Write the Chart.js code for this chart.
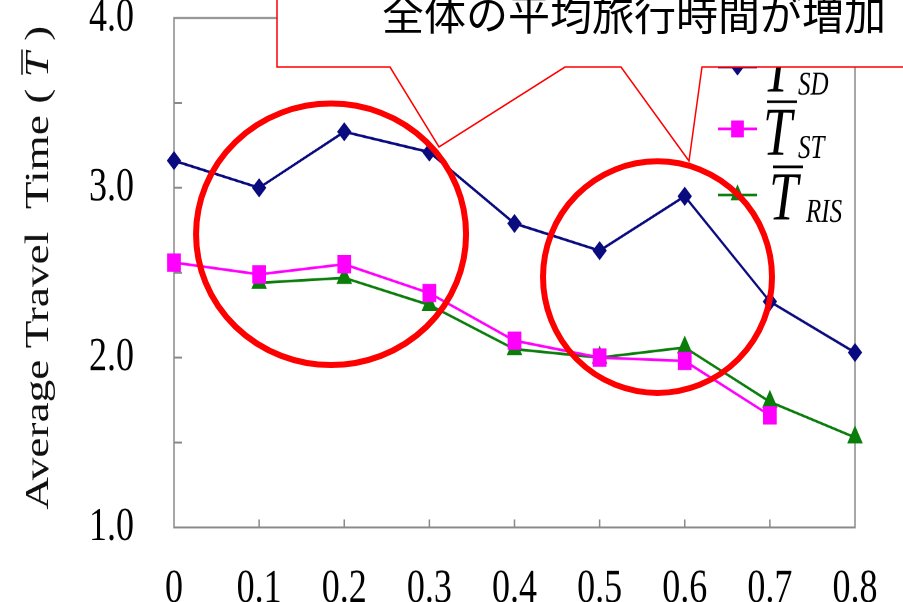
<!DOCTYPE html>
<html>
<head>
<meta charset="utf-8">
<script src="https://cdn.jsdelivr.net/npm/chart.js@4.4.1/dist/chart.umd.min.js"></script>
<style>
  html, body { margin: 0; padding: 0; background: #fff; }
  #wrap { position: relative; width: 903px; height: 602px; overflow: hidden; background: #fff; }
  #stretch { position: absolute; left: 0; top: 0; width: 903px; height: 452px; transform-origin: 0 0; }
  #notes { position: absolute; left: 0; top: 0; }
</style>
</head>
<body>
<div id="wrap">
  <div id="stretch"><canvas id="chart" width="903" height="452"></canvas></div>
  <canvas id="notes" width="903" height="602"></canvas>
</div>
<script>
// Ratio of signalised share (x) vs. average travel time for three strategies
const xLabels = ['0', '0.1', '0.2', '0.3', '0.4', '0.5', '0.6', '0.7', '0.8'];
const tSD  = [3.16, 3.00, 3.33, 3.21, 2.79, 2.63, 2.95, 2.33, 2.03];
const tST  = [2.56, 2.49, 2.55, 2.38, 2.10, 2.00, 1.98, 1.66, null];
const tRIS = [null, 2.44, 2.47, 2.31, 2.05, 2.00, 2.06, 1.74, 1.53];
const seriesSubs = ['SD', 'ST', 'RIS'];
const yMin = 1.0, yMax = 4.0, yStep = 0.5;
const calloutText = '全体の平均旅行時間が増加';
const yTitleParts = ['Average Travel  Time ( ', 'T', ' )'];

// The plot is drawn on a shorter canvas and stretched vertically to the page height
const PAGE_H = 602, CHART_H = 452, K = PAGE_H / CHART_H;
document.getElementById('stretch').style.transform = 'scaleY(' + K + ')';

const SERIF = '"Liberation Serif", "Times New Roman", serif';
const colors = { SD: '#0b0b80', ST: '#ff00ff', RIS: '#0a7d0a' };
const styles = { SD: ['rectRot', 6.5], ST: ['rect', 9], RIS: ['triangle', 8] };

function drawMarker(ctx, style, x, y, r, color) {
  ctx.save();
  ctx.fillStyle = color;
  ctx.beginPath();
  if (style === 'rectRot') {
    ctx.moveTo(x, y - r); ctx.lineTo(x + r, y); ctx.lineTo(x, y + r); ctx.lineTo(x - r, y);
  } else if (style === 'rect') {
    const s = r * Math.SQRT1_2;
    ctx.rect(x - s, y - s, 2 * s, 2 * s);
  } else {
    const h = r * Math.sin(Math.PI / 3);
    ctx.moveTo(x, y - r); ctx.lineTo(x + h, y + r / 2); ctx.lineTo(x - h, y + r / 2);
  }
  ctx.closePath();
  ctx.fill();
  ctx.restore();
}

// Frame around the plot area with inward tick marks
const framePlugin = {
  id: 'frame',
  beforeDatasetsDraw(chart) {
    const { ctx, chartArea: a, scales: { x, y } } = chart;
    ctx.save();
    ctx.strokeStyle = '#8a8a8a';
    ctx.lineWidth = 1.5;
    ctx.strokeRect(a.left, a.top, a.right - a.left, a.bottom - a.top);
    ctx.beginPath();
    for (let i = 1; i < xLabels.length - 1; i++) {
      const px = x.getPixelForValue(i);
      ctx.moveTo(px, a.bottom); ctx.lineTo(px, a.bottom - 6);
    }
    for (let v = yMin + yStep; v < yMax; v += yStep) {
      const py = y.getPixelForValue(v);
      ctx.moveTo(a.left, py); ctx.lineTo(a.left + 8, py);
    }
    ctx.stroke();
    ctx.restore();
  }
};

// Legend with barred T and subscripts, plus the rotated axis title
const legendPlugin = {
  id: 'barLegend',
  afterDraw(chart) {
    const ctx = chart.ctx;
    const rows = [
      { lineY: 50.3, tx: 767, base: 69,    sx: 798, sb: 71 },
      { lineY: 96.8, tx: 767, base: 116.4, sx: 798, sb: 118.6 },
      { lineY: 146.4, tx: 773, base: 165.2, sx: 806, sb: 166.7 }
    ];
    ctx.save();
    seriesSubs.forEach((sub, i) => {
      const r = rows[i];
      ctx.strokeStyle = colors[sub];
      ctx.lineWidth = 2;
      ctx.beginPath(); ctx.moveTo(718, r.lineY); ctx.lineTo(757, r.lineY); ctx.stroke();
      drawMarker(ctx, styles[sub][0], 737.5, r.lineY, styles[sub][1], colors[sub]);
      ctx.fillStyle = '#000';
      ctx.textAlign = 'left';
      ctx.textBaseline = 'alphabetic';
      ctx.font = 'italic 52px ' + SERIF;
      ctx.fillText('T', r.tx - 4, r.base);
      ctx.strokeStyle = '#000';
      ctx.lineWidth = 2;
      const oy = r.base - 40;
      ctx.beginPath(); ctx.moveTo(r.tx, oy); ctx.lineTo(r.tx + 30, oy); ctx.stroke();
      ctx.font = 'italic 25px ' + SERIF;
      ctx.fillText(sub, r.sx, r.sb);
    });
    // axis title
    ctx.translate(48, 201);
    ctx.rotate(-Math.PI / 2);
    ctx.fillStyle = '#111';
    ctx.textBaseline = 'alphabetic';
    ctx.textAlign = 'left';
    const fonts = ['34px ' + SERIF, 'italic 34px ' + SERIF, '34px ' + SERIF];
    let total = 0;
    const widths = yTitleParts.map((t, i) => { ctx.font = fonts[i]; const w = ctx.measureText(t).width; total += w; return w; });
    let cx = -total / 2;
    yTitleParts.forEach((t, i) => {
      ctx.font = fonts[i];
      ctx.fillText(t, cx, 0);
      if (i === 1) {
        ctx.lineWidth = 1.5; ctx.strokeStyle = '#111';
        ctx.beginPath(); ctx.moveTo(cx + 2, -26); ctx.lineTo(cx + widths[i] + 2, -26); ctx.stroke();
      }
      cx += widths[i];
    });
    ctx.restore();
  }
};

// Highlight rings and the speech-bubble callout, drawn at page resolution
const notesPlugin = {
  id: 'notes',
  afterDraw(chart) {
    const { x, y } = chart.scales;
    const ctx = document.getElementById('notes').getContext('2d');
    ctx.clearRect(0, 0, 903, 602);
    const rings = [
      { cx: 1.845, cy: 2.726, rx: 1.586, ry: 0.770 },
      { cx: 5.68,  cy: 2.474, rx: 1.345, ry: 0.682 }
    ];
    ctx.save();
    ctx.strokeStyle = '#ff0000';
    ctx.lineWidth = 6;
    rings.forEach(r => {
      const px = x.getPixelForValue(r.cx);
      const py = y.getPixelForValue(r.cy) * K;
      const rxp = x.getPixelForValue(r.cx + r.rx) - px;
      const ryp = (y.getPixelForValue(r.cy - r.ry) - y.getPixelForValue(r.cy)) * K;
      ctx.beginPath();
      ctx.ellipse(px, py, rxp, ryp, 0, 0, Math.PI * 2);
      ctx.stroke();
    });
    // callout box with two pointers
    ctx.beginPath();
    ctx.moveTo(277, -5);
    ctx.lineTo(277, 67);
    ctx.lineTo(390, 67);
    ctx.lineTo(439, 147);
    ctx.lineTo(565, 67);
    ctx.lineTo(621, 67);
    ctx.lineTo(689, 161);
    ctx.lineTo(702, 67);
    ctx.lineTo(910, 67);
    ctx.lineTo(910, -5);
    ctx.closePath();
    ctx.fillStyle = '#ffffff';
    ctx.fill();
    ctx.lineWidth = 1.5;
    ctx.strokeStyle = '#ff0000';
    ctx.stroke();
    ctx.fillStyle = '#000';
    ctx.font = '42px "Noto Sans CJK JP", sans-serif';
    ctx.textAlign = 'left';
    ctx.textBaseline = 'middle';
    ctx.fillText(calloutText, 382, 14);
    ctx.restore();
  }
};

function series(sub, data) {
  return {
    label: sub,
    data: data,
    borderColor: colors[sub],
    backgroundColor: colors[sub],
    pointBackgroundColor: colors[sub],
    pointBorderColor: colors[sub],
    pointBorderWidth: 1,
    pointStyle: styles[sub][0],
    pointRadius: styles[sub][1],
    borderWidth: 2,
    tension: 0,
    clip: false
  };
}

new Chart(document.getElementById('chart'), {
  type: 'line',
  data: {
    labels: xLabels,
    datasets: [series('SD', tSD), series('ST', tST), series('RIS', tRIS)]
  },
  options: {
    responsive: false,
    animation: false,
    devicePixelRatio: 2,
    layout: { padding: { left: 0, right: 48, top: 13.5, bottom: 0 } },
    plugins: { legend: { display: false }, tooltip: { enabled: false } },
    scales: {
      x: {
        type: 'category',
        offset: false,
        grid: { display: false },
        border: { display: false },
        ticks: { color: '#000', font: { family: SERIF, size: 36 }, padding: 17, maxRotation: 0, autoSkip: false },
        afterFit(s) { s.height = 56; s.paddingLeft = 0; s.paddingRight = 0; }
      },
      y: {
        min: yMin, max: yMax,
        grid: { display: false },
        border: { display: false },
        ticks: {
          stepSize: yStep,
          color: '#000',
          font: { family: SERIF, size: 36 },
          padding: 32,
          callback: v => (Math.abs(v - Math.round(v)) < 1e-9 ? v.toFixed(1) : '')
        },
        afterFit(s) { s.width = 174; s.paddingTop = 0; s.paddingBottom = 0; }
      }
    }
  },
  plugins: [framePlugin, legendPlugin, notesPlugin]
});
</script>
</body>
</html>
